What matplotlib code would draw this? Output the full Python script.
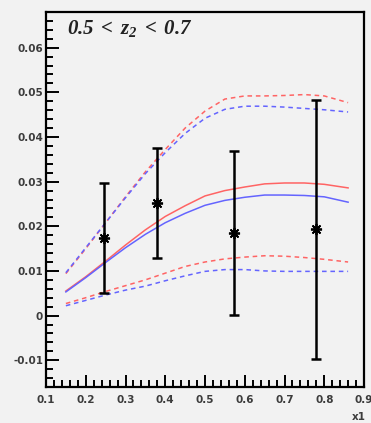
import matplotlib
matplotlib.use("Agg")
import matplotlib.pyplot as plt
from matplotlib.ticker import MultipleLocator, FuncFormatter

# Model curves sampled in x1
x_curve = [0.15, 0.20, 0.25, 0.30, 0.35, 0.40, 0.45, 0.50, 0.55, 0.60, 0.65, 0.70, 0.75, 0.80, 0.86]

red_central = [0.0055, 0.0087, 0.0122, 0.0158, 0.0192, 0.0222, 0.0246, 0.0268, 0.0280, 0.0288,
               0.0295, 0.0297, 0.0297, 0.0294, 0.0286]
blue_central = [0.0053, 0.0085, 0.0119, 0.0152, 0.0182, 0.0208, 0.0229, 0.0247, 0.0258, 0.0265,
                0.0270, 0.0270, 0.0269, 0.0266, 0.0254]
red_upper = [0.0094, 0.0150, 0.0208, 0.0266, 0.0322, 0.0372, 0.0420, 0.0458, 0.0485, 0.0492,
             0.0492, 0.0493, 0.0495, 0.0492, 0.0477]
blue_upper = [0.0096, 0.0152, 0.0208, 0.0264, 0.0318, 0.0365, 0.0408, 0.0442, 0.0462, 0.0469,
              0.0469, 0.0467, 0.0464, 0.0461, 0.0456]
red_lower = [0.0027, 0.0040, 0.0054, 0.0067, 0.0080, 0.0095, 0.0110, 0.0120, 0.0127, 0.0131,
             0.0134, 0.0133, 0.0130, 0.0126, 0.0120]
blue_lower = [0.0022, 0.0034, 0.0046, 0.0057, 0.0066, 0.0078, 0.0089, 0.0099, 0.0103, 0.0103,
              0.0100, 0.0099, 0.0099, 0.0099, 0.0099]

# Measured points
x_data = [0.246, 0.379, 0.573, 0.779]
y_data = [0.0174, 0.0252, 0.0185, 0.0193]
y_err = [0.0124, 0.0123, 0.0183, 0.0290]

plt.rcParams["mathtext.fontset"] = "custom"
plt.rcParams["mathtext.rm"] = "Liberation Serif:bold:italic"
plt.rcParams["mathtext.it"] = "Liberation Serif:bold:italic"
plt.rcParams["mathtext.bf"] = "Liberation Serif:bold:italic"

bg = "#f2f2f2"
red = "#ff6464"
blue = "#6464ff"
label_color = "#3c3c3c"

fig = plt.figure(figsize=(3.71, 4.23), dpi=100, facecolor=bg)
ax = fig.add_axes([46 / 371, 1 - 387 / 423, 318 / 371, 375 / 423])
ax.set_facecolor(bg)

ax.plot(x_curve, red_central, color=red, lw=1.1)
ax.plot(x_curve, blue_central, color=blue, lw=1.1)
for ys, c in [(red_upper, red), (blue_upper, blue), (red_lower, red), (blue_lower, blue)]:
    ax.plot(x_curve, ys, color=c, lw=1.1, linestyle=(0, (3, 2.5)))

ax.errorbar(x_data, y_data, yerr=y_err, fmt="none", ecolor="black", elinewidth=1.8,
            capsize=3.5, capthick=1.8, zorder=5)
ax.plot(x_data, y_data, linestyle="none", marker=(8, 2, 0), markersize=8,
        markeredgewidth=1.3, color="black", zorder=6)

ax.set_xlim(0.1, 0.9)
ax.set_ylim(-0.016, 0.068)

for s in ax.spines.values():
    s.set_linewidth(1.6)
    s.set_color("black")

ax.xaxis.set_major_locator(MultipleLocator(0.1))
ax.xaxis.set_minor_locator(MultipleLocator(0.02))
ax.yaxis.set_major_locator(MultipleLocator(0.01))
ax.yaxis.set_minor_locator(MultipleLocator(0.002))

ax.xaxis.set_major_formatter(FuncFormatter(lambda v, p: f"{v:.1f}"))
ax.yaxis.set_major_formatter(FuncFormatter(lambda v, p: "0" if abs(v) < 1e-9 else f"{v:.2f}"))

ax.tick_params(which="both", direction="in", top=False, right=False, width=1.4, color="black")
ax.tick_params(which="major", length=9)
ax.tick_params(which="minor", length=5)
ax.tick_params(axis="x", which="major", pad=6)
ax.tick_params(axis="y", which="major", pad=2)
for lab in ax.get_xticklabels() + ax.get_yticklabels():
    lab.set_fontsize(7.5)
    lab.set_fontweight("bold")
    lab.set_color(label_color)
    lab.set_family("DejaVu Sans")

ax.text(0.066, 0.955, r"$0.5\;<\;z_{2}\;<\;0.7$", transform=ax.transAxes,
        ha="left", va="center", fontsize=15, color="#222222")

fig.text(0.985, 0.002, "x1", ha="right", va="bottom", fontsize=7.5, fontweight="bold",
         color=label_color, family="DejaVu Sans")

fig.savefig("out.png", dpi=100, facecolor=bg)
